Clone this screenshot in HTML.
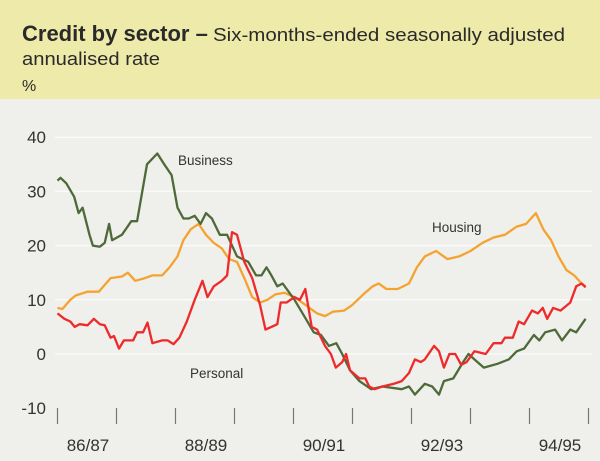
<!DOCTYPE html>
<html><head><meta charset="utf-8"><style>
body{margin:0;width:600px;height:461px;background:#efefec;font-family:"Liberation Sans",sans-serif;overflow:hidden}
#hdr{position:absolute;left:0;top:0;width:600px;height:99px;background:#eeeaa9}
svg{position:absolute;left:0;top:0}
</style></head><body>
<div id="hdr"></div>
<svg width="600" height="461" id="chart">
<text x="22" y="41" font-size="22" font-weight="bold" fill="#2a2a2a">Credit by sector –</text>
<text x="213" y="41" font-size="18" fill="#2a2a2a" textLength="352" lengthAdjust="spacingAndGlyphs">Six-months-ended seasonally adjusted</text>
<text x="22" y="65" font-size="18" fill="#2a2a2a" textLength="138" lengthAdjust="spacingAndGlyphs">annualised rate</text>
<text x="22" y="91" font-size="16" fill="#2a2a2a">%</text>
<g id="grid"></g><g id="ylab"></g><g id="xax"></g><g id="lines"></g>
<text x="178" y="165" font-size="13.5" fill="#333">Business</text>
<text x="432" y="232" font-size="13.5" fill="#333">Housing</text>
<text x="190" y="378" font-size="13.5" fill="#333">Personal</text>
</svg>
<script>
const yTicks=[40,30,20,10,0,-10];
const xLabels=["86/87","88/89","90/91","92/93","94/95"];
const busM=[0,0.6,1.8,3.4,4.3,5.1,6.5,7.2,8.6,9.6,10.5,11.1,13.1,15,16.2,18.2,20.3,21.7,23.2,24.4,25.6,26.7,27.9,29.1,30.2,31.4,33,34.5,36.5,38.8,40.4,41.5,42.5,43.5,44.7,45.8,48.2,50.5,52.1,53.6,55.2,56.7,57.9,59.5,61.4,63.8,66.1,70,71.5,72.7,74.7,76.2,77.6,78.6,80.5,82.5,83.6,84.8,86.7,89.5,91.8,93.4,94.9,96.9,98,99.2,101.2,102.6,104.3,105.5,107.4];
const busV=[32,32.5,31.5,29,26,27,22,20,19.8,20.5,24,21,22,24.5,24.5,35,37,35,33,27,25,25,25.5,24,26,25,22,22,18,17,14.5,14.5,16,14.5,12.5,13,10,6.5,4,3.5,1.5,2,0,-3,-5,-6.5,-6,-6.5,-6,-7.5,-5.5,-6,-7.5,-5,-4.5,-1.5,0,-1,-2.5,-1.8,-1,0.5,1,3.5,2.5,4,4.5,2.5,4.5,4,6.5];
const houM=[0,1,2.6,3.7,6.1,8.4,10.8,13.1,14.3,15.8,17.8,19.3,21.3,22.8,24.4,25.6,27.1,28.7,30.2,31.8,33.4,34.9,36.5,38,39.6,41.2,42.7,44.3,46.2,48.2,50.5,52.8,54.4,56,58.3,59.9,62.2,64.1,65.3,66.9,69.2,71.5,73.1,74.7,77,79.3,81.7,84,86.4,88.7,91,93.4,95.3,97.3,98.8,100.4,101.9,103.5,105.1,106.6,107.4];
const houV=[8.5,8.3,10,10.8,11.5,11.5,14,14.3,15,13.5,14,14.5,14.5,16,18,21,23,24,22,20.5,19.5,17.5,17,14,10.5,9.5,10,11,11.3,10.5,9,7.5,7,7.8,8,9,11,12.5,13,12,12,13,16,18,19,17.5,18,19,20.5,21.5,22,23.5,24,26,23,21,18,15.5,14.5,13,12.5];
const perM=[0,1.4,2.6,3.5,4.5,6.1,7.4,8.6,9.6,10.8,11.5,12.5,13.5,15.4,16.2,17.4,18.3,19.3,21.3,22.4,23.6,24.8,26.3,27.9,29.5,30.5,31.8,33.4,34.5,35.5,36.5,38,39.6,41.2,42.3,43.5,44.7,45.4,46.6,48.2,49.3,50.4,51.7,52.8,54.4,55.6,56.6,57.9,58.7,59.5,61.4,62.6,63.4,64.5,66.1,68.4,70,71.5,72.7,73.9,74.7,76.6,77.6,78.6,79.7,80.9,82.1,83.2,84.8,87.1,88.7,90.3,91,92.6,93.8,94.9,96.5,97.7,98.7,99.6,100.8,102.3,104.3,105.5,106.6,107.4];
const perV=[7.5,6.5,6,5,5.5,5.3,6.5,5.5,5.3,3,3.3,1,2.5,2.5,4,4,5.8,2,2.5,2.5,1.8,3,6,10,13.5,10.5,12.5,13.5,14.5,22.5,22,17,14,9,4.5,5,5.5,9.5,9.5,10.5,10,12,5,4.5,1.5,0,-2.5,-1.5,0,-3,-4.5,-4.5,-6,-6.5,-6,-5.5,-5,-3.5,-1,-1.5,-1,1.5,0.5,-2.5,0,0,-2,-1.5,0.5,0,2,2,3,3,6,5.5,8,7.5,8.5,6.5,8.5,8,9.5,12.5,13,12.3];
const NS="http://www.w3.org/2000/svg";
const X=m=>57.5+m*(588.5-57.5)/108;
const Y=v=>354-v*5.42;
function mk(t,a,p){const e=document.createElementNS(NS,t);for(const k in a)e.setAttribute(k,a[k]);p.appendChild(e);return e;}
const grid=document.getElementById('grid'),ylab=document.getElementById('ylab'),xax=document.getElementById('xax'),lines=document.getElementById('lines');
yTicks.forEach(v=>{
 if(v>-10){const g=mk('line',{x1:55,x2:592,y1:Y(v),y2:Y(v),stroke:'#fafaf8','stroke-width':1.5},grid);
 
 }
 const t=mk('text',{x:46,y:Y(v)+6,'font-size':17,fill:'#333','text-anchor':'end'},ylab);t.textContent=v;
 
 
});
for(let i=0;i<=9;i++){const l=mk('line',{x1:X(i*12),x2:X(i*12),y1:408,y2:424,stroke:'#777','stroke-width':1.2},xax);
 
 }
xLabels.forEach((s,i)=>{const t=mk('text',{x:X(i*24+6)+1,y:451,'font-size':17,fill:'#333','text-anchor':'middle'},xax);t.textContent=s;
 
 });
function draw(ms,vs,c,n){const d=ms.map((m,i)=>(i?'L':'M')+X(m).toFixed(1)+' '+Y(vs[i]).toFixed(1)).join('');
 const p=mk('path',{d:d,fill:'none',stroke:c,'stroke-width':2.3,'stroke-linejoin':'round'},lines);
 
 }
draw(houM,houV,'#f4a330','housing-line');
draw(busM,busV,'#4e6a38','business-line');
draw(perM,perV,'#ee2a2a','personal-line');
</script>
</body></html>
